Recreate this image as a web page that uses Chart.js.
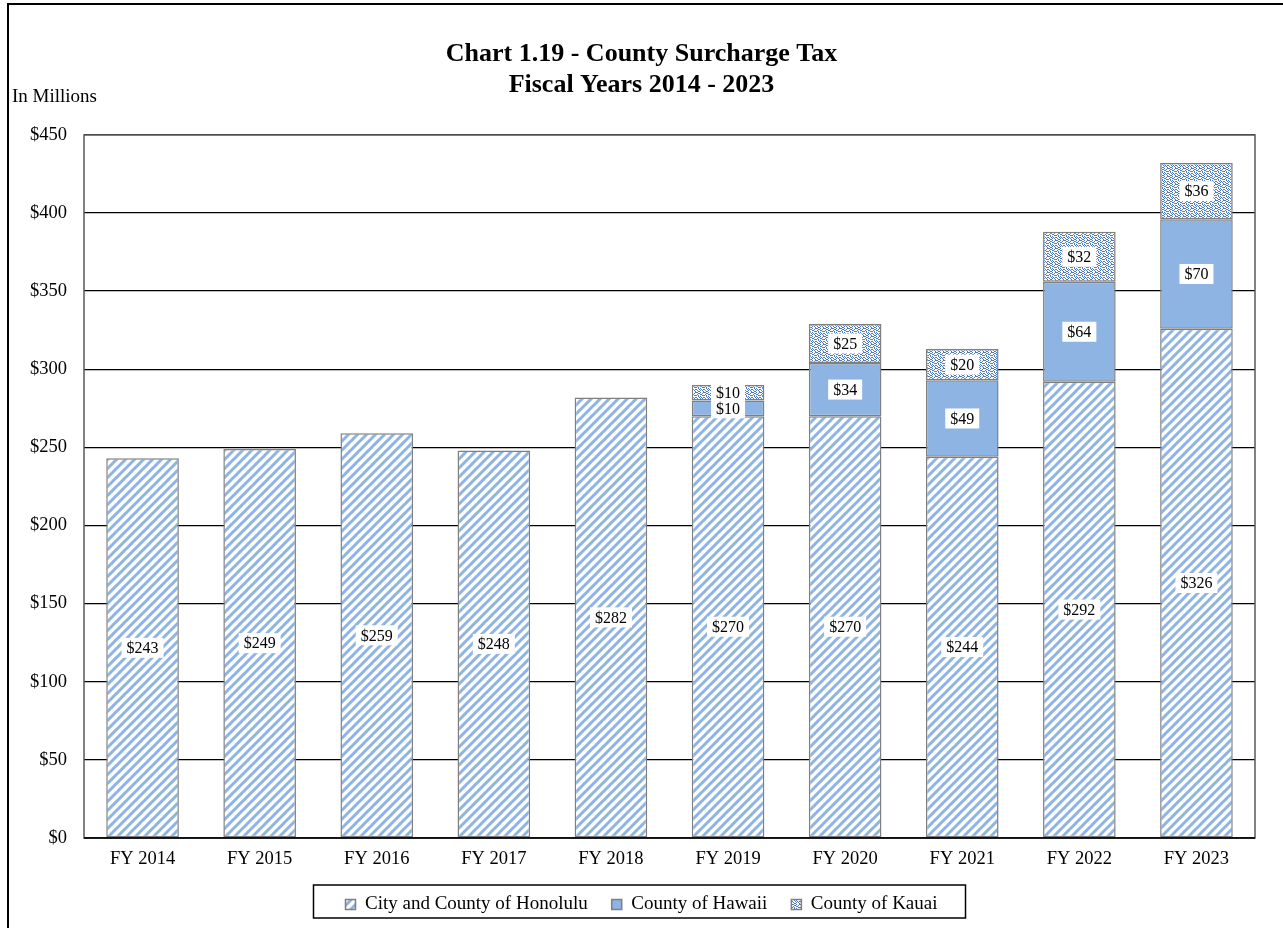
<!DOCTYPE html>
<html>
<head>
<meta charset="utf-8">
<script src="https://cdn.jsdelivr.net/npm/chart.js@4.4.1/dist/chart.umd.min.js"></script>
<style>
  html, body { margin: 0; padding: 0; background: #fff; }
  #wrap { width: 1283px; height: 928px; }
</style>
</head>
<body>
<div id="wrap"><canvas id="surchargeChart" width="1283" height="928"></canvas></div>
<script>
// data (in millions)
const years = ['FY 2014', 'FY 2015', 'FY 2016', 'FY 2017', 'FY 2018', 'FY 2019', 'FY 2020', 'FY 2021', 'FY 2022', 'FY 2023'];
const honolulu = [243, 249, 259, 248, 282, 270, 270, 244, 292, 326];
const hawaii = [null, null, null, null, null, 10, 34, 49, 64, 70];
const kauai = [null, null, null, null, null, 10, 25, 20, 32, 36];
const seriesNames = ['City and County of Honolulu', 'County of Hawaii', 'County of Kauai'];
const yMin = 0, yMax = 450, yStep = 50;

const serif = "'Liberation Serif', 'Times New Roman', serif";

// diagonal stripes for Honolulu
function stripePattern() {
    const c = document.createElement('canvas');
    c.width = 9; c.height = 9;
    const g = c.getContext('2d');
    g.fillStyle = '#fff';
    g.fillRect(0, 0, 9, 9);
    g.strokeStyle = '#8db4e2';
    g.lineWidth = 3;
    g.beginPath();
    g.moveTo(-1, 10); g.lineTo(10, -1);
    g.moveTo(-5, 5); g.lineTo(5, -5);
    g.moveTo(4, 14); g.lineTo(14, 4);
    g.stroke();
    return g.createPattern(c, 'repeat');
}

// small weave for Kauai
function weavePattern() {
    const rows = [
        '##..#..#',
        '..##..#.',
        '.#..##..',
        '#.#...##',
        '..#.#...',
        '#..#.#.#',
        '.#..#.#.',
        '..##...#'
    ];
    const c = document.createElement('canvas');
    c.width = 8; c.height = 8;
    const g = c.getContext('2d');
    g.fillStyle = '#fff';
    g.fillRect(0, 0, 8, 8);
    g.fillStyle = '#4a7abb';
    rows.forEach((r, y) => {
        for (let x = 0; x < r.length; x++) {
            if (r[x] === '#') g.fillRect(x, y, 1, 1);
        }
    });
    return g.createPattern(c, 'repeat');
}

const pageDeco = {
    id: 'pageDeco',
    beforeDraw(chart) {
        const ctx = chart.ctx;
        ctx.save();
        ctx.fillStyle = '#fff';
        ctx.fillRect(0, 0, chart.width, chart.height);
        ctx.strokeStyle = '#000';
        ctx.lineWidth = 2;
        ctx.beginPath();
        ctx.moveTo(8, chart.height);
        ctx.lineTo(8, 4);
        ctx.lineTo(chart.width, 4);
        ctx.stroke();
        ctx.fillStyle = '#000';
        ctx.font = '19px ' + serif;
        ctx.textAlign = 'left';
        ctx.textBaseline = 'middle';
        ctx.fillText('In Millions', 12, 97);
        ctx.restore();
    },
    afterDatasetsDraw(chart) {
        const ctx = chart.ctx;
        const a = chart.chartArea;
        ctx.save();
        // plot frame
        ctx.strokeStyle = '#595959';
        ctx.lineWidth = 1.5;
        ctx.strokeRect(a.left, a.top, a.right - a.left, a.bottom - a.top);
        ctx.strokeStyle = '#000';
        ctx.beginPath();
        ctx.moveTo(a.left, a.bottom);
        ctx.lineTo(a.right, a.bottom);
        ctx.stroke();

        // value labels in white boxes
        ctx.font = '16px ' + serif;
        ctx.textAlign = 'center';
        ctx.textBaseline = 'middle';
        const labels = [];
        chart.data.datasets.forEach((ds, i) => {
            chart.getDatasetMeta(i).data.forEach((bar, j) => {
                const v = ds.data[j];
                if (v === null) return;
                labels.push({ x: bar.x, y: (bar.y + bar.base) / 2, text: '$' + v });
            });
        });
        labels.forEach(l => {
            const w = ctx.measureText(l.text).width + 10;
            ctx.fillStyle = '#fff';
            ctx.fillRect(l.x - w / 2, l.y - 10, w, 20);
        });
        ctx.fillStyle = '#000';
        labels.forEach(l => ctx.fillText(l.text, l.x, l.y + 1));
        ctx.restore();
    },
    afterDraw(chart) {
        // frame round the legend
        const boxes = chart.legend.legendHitBoxes;
        if (!boxes || !boxes.length) return;
        const left = Math.min(...boxes.map(b => b.left)) - 32;
        const right = Math.max(...boxes.map(b => b.left + b.width)) + 28;
        const ctx = chart.ctx;
        ctx.save();
        ctx.strokeStyle = '#000';
        ctx.lineWidth = 1.5;
        ctx.strokeRect(left, 885, right - left, 33);
        ctx.restore();
    }
};

new Chart(document.getElementById('surchargeChart'), {
    type: 'bar',
    data: {
        labels: years,
        datasets: [
            { label: seriesNames[0], data: honolulu, backgroundColor: stripePattern() },
            { label: seriesNames[1], data: hawaii, backgroundColor: '#8db4e2' },
            { label: seriesNames[2], data: kauai, backgroundColor: weavePattern() }
        ].map(ds => Object.assign(ds, {
            borderColor: '#7f7f7f',
            borderWidth: 1.5,
            borderSkipped: false,
            categoryPercentage: 1,
            barPercentage: 0.62
        }))
    },
    options: {
        responsive: false,
        animation: false,
        layout: { padding: { left: 28, right: 28, top: 0, bottom: 10 } },
        plugins: {
            title: {
                display: true,
                text: ['Chart 1.19 - County Surcharge Tax', 'Fiscal Years 2014 - 2023'],
                color: '#000',
                font: { family: serif, size: 26, weight: 'bold', lineHeight: 1.2 },
                padding: { top: 38.5, bottom: 34 }
            },
            legend: {
                position: 'bottom',
                maxHeight: 47,
                labels: {
                    color: '#000',
                    font: { family: serif, size: 19 },
                    boxWidth: 10,
                    boxHeight: 10,
                    padding: 24
                }
            },
            tooltip: { enabled: false }
        },
        scales: {
            x: {
                stacked: true,
                afterFit(s) { s.height = 33; },
                grid: { display: false, drawTicks: false },
                border: { display: false },
                ticks: { color: '#000', font: { family: serif, size: 18.5 }, padding: 10 }
            },
            y: {
                stacked: true,
                min: yMin,
                max: yMax,
                afterFit(s) { s.width = 56; },
                grid: { color: '#000', lineWidth: 1.3, drawTicks: false },
                border: { display: false },
                ticks: {
                    stepSize: yStep,
                    color: '#000',
                    font: { family: serif, size: 18.5 },
                    padding: 17,
                    callback: v => '$' + v
                }
            }
        }
    },
    plugins: [pageDeco]
});
</script>
</body>
</html>
